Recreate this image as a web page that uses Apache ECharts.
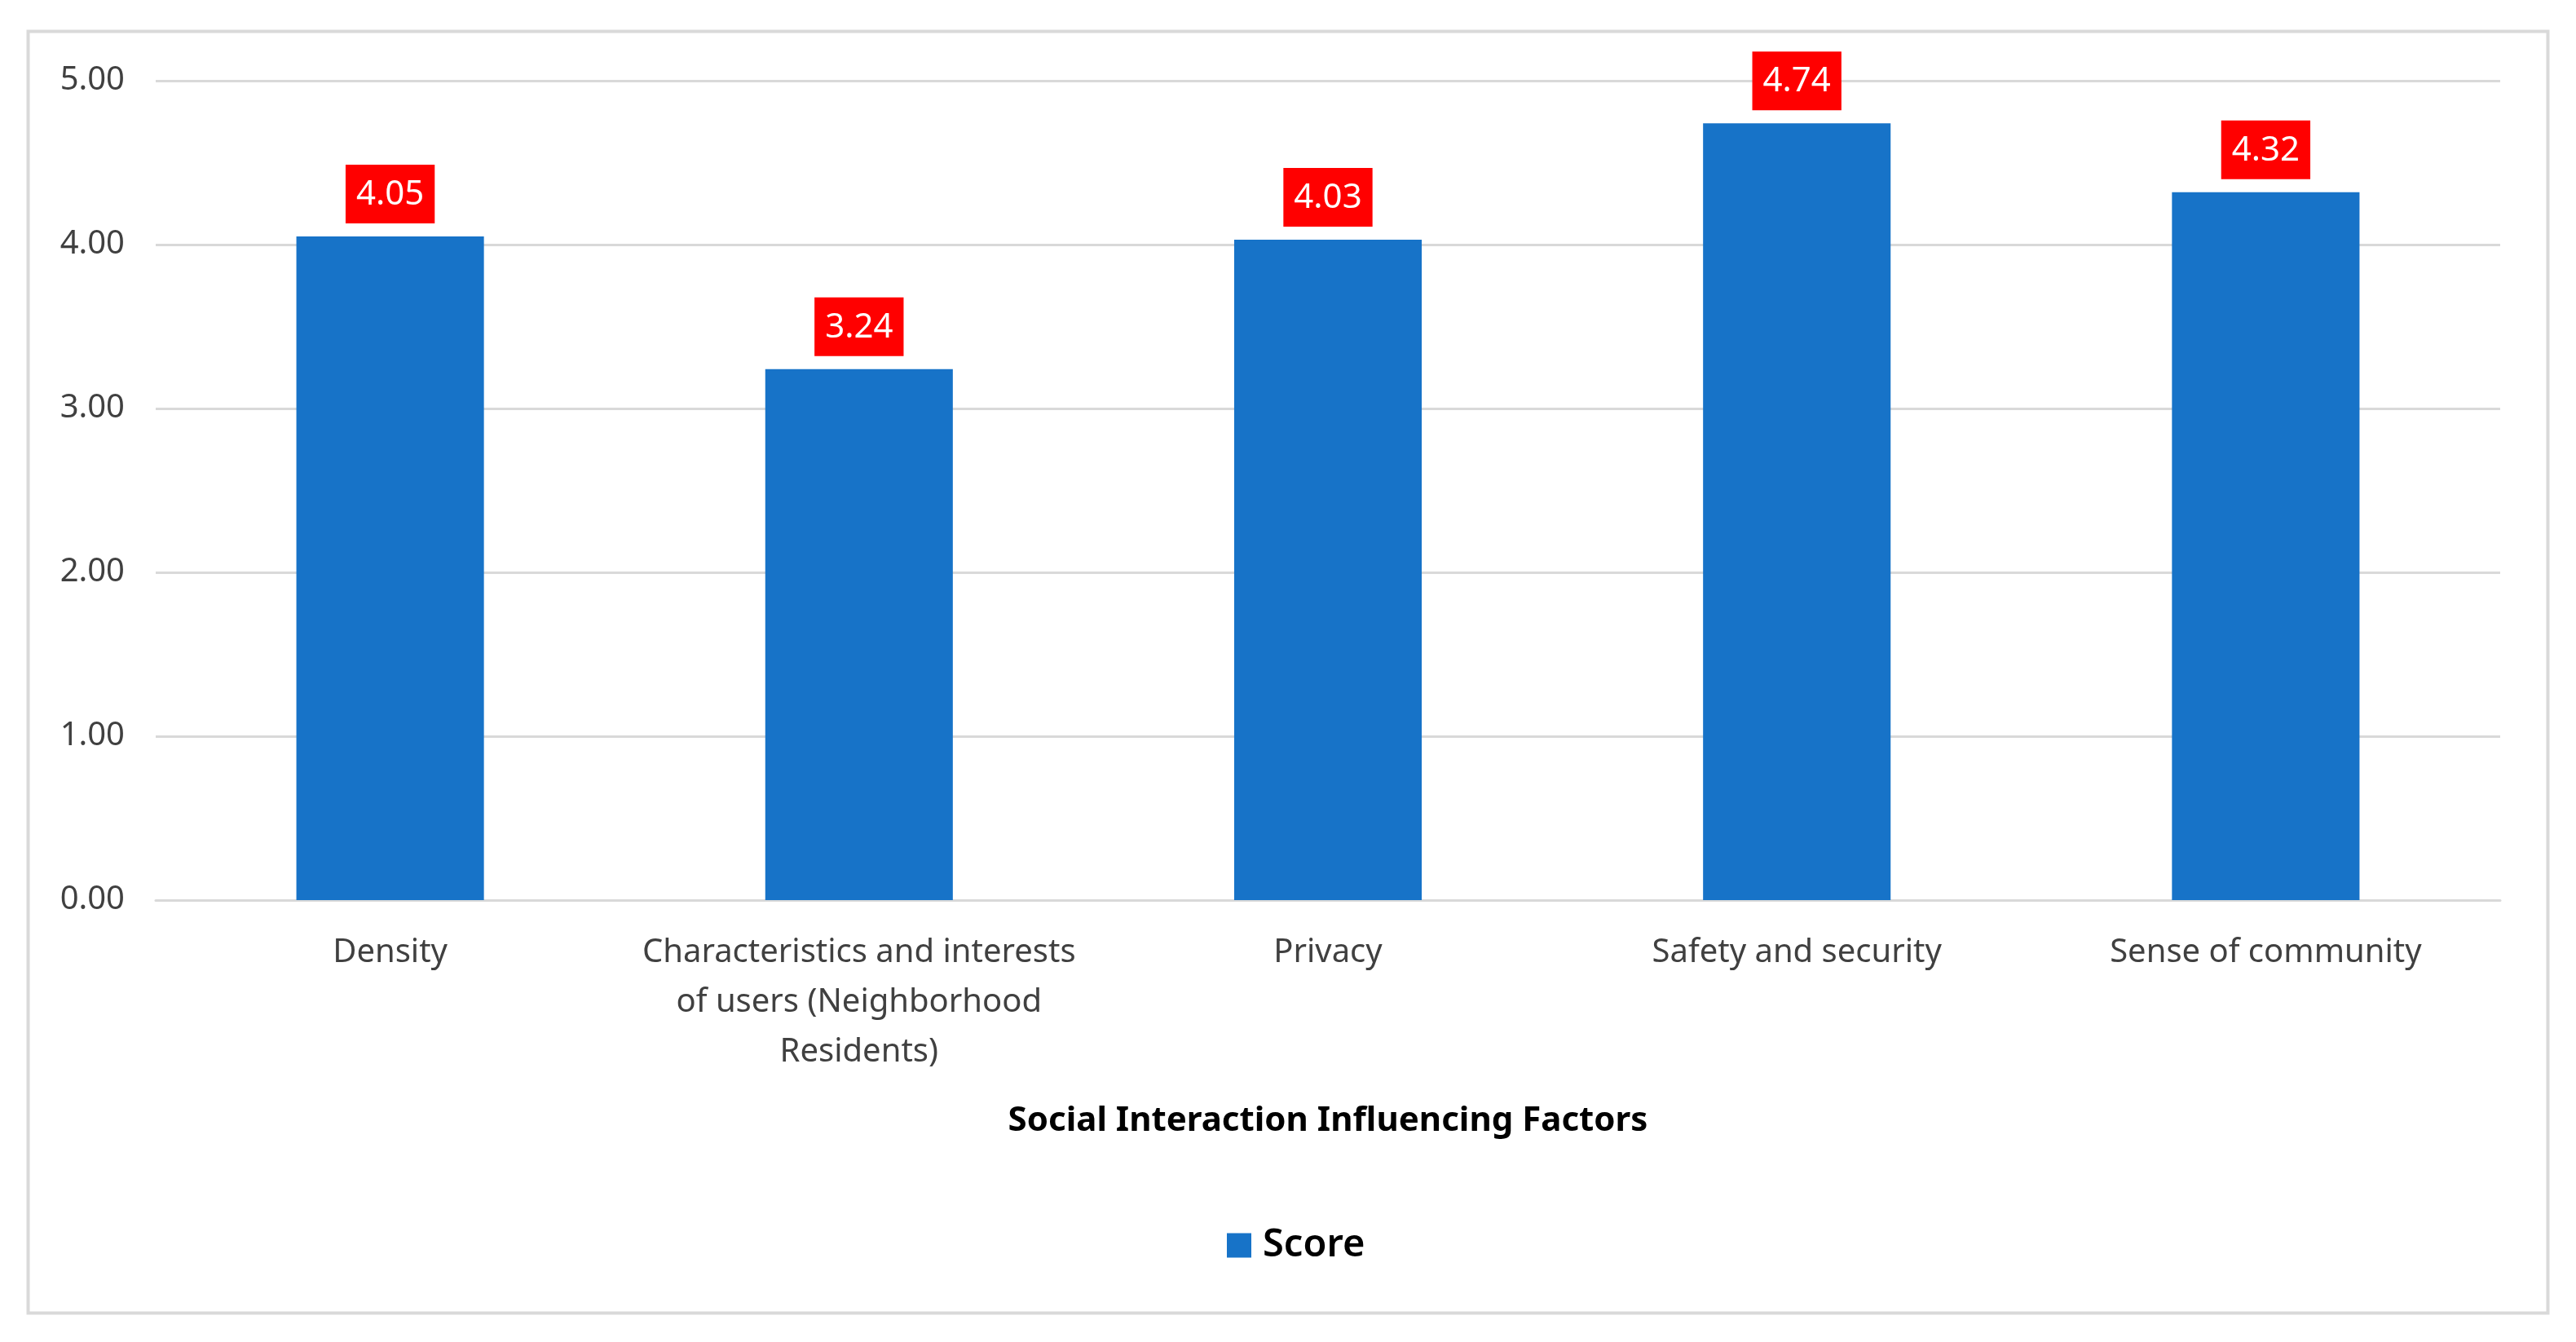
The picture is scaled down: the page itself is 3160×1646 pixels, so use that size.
<!DOCTYPE html>
<html>
<head>
<meta charset="utf-8">
<script src="https://cdn.jsdelivr.net/npm/echarts@6/dist/echarts.min.js"></script>
<style>
html,body{margin:0;padding:0;background:#fff;}
#chart{width:3160px;height:1646px;}
</style>
</head>
<body>
<div id="chart"></div>
<script>
const categories = [
  "Density",
  "Characteristics and interests\nof users (Neighborhood\nResidents)",
  "Privacy",
  "Safety and security",
  "Sense of community"
];
const scores = [4.05, 3.24, 4.03, 4.74, 4.32];
const seriesName = "Score";
const xAxisTitle = "Social Interaction Influencing Factors";

const chart = echarts.init(document.getElementById('chart'));
chart.setOption({
  backgroundColor: '#ffffff',
  animation: false,
  textStyle: { fontFamily: 'Noto Sans' },
  graphic: [{
    type: 'rect',
    left: 32, top: 36,
    shape: { width: 3091, height: 1572 },
    style: { fill: 'none', stroke: '#d9d9d9', lineWidth: 4 },
    silent: true
  }],
  grid: { left: 191, right: 93, top: 99, bottom: 542, containLabel: false },
  legend: {
    data: [seriesName],
    left: 1500,
    top: 1499,
    itemWidth: 30,
    itemHeight: 30,
    icon: 'rect',
    textStyle: { fontSize: 47, fontWeight: 600, color: '#000', fontFamily: 'Noto Sans', padding: [0, 0, 0, 9] }
  },
  xAxis: {
    type: 'category',
    data: categories,
    axisLine: { show: true, lineStyle: { color: '#d9d9d9', width: 3 } },
    axisTick: { show: false },
    axisLabel: { fontSize: 40, color: '#404040', lineHeight: 61, margin: 34, interval: 0 },
    name: xAxisTitle,
    nameLocation: 'middle',
    nameGap: 250,
    nameTextStyle: { fontSize: 42, fontWeight: 'bold', color: '#000' }
  },
  yAxis: {
    type: 'value',
    min: 0, max: 5, interval: 1,
    axisLine: { show: false },
    axisTick: { show: false },
    axisLabel: { fontSize: 40, color: '#404040', margin: 38, formatter: v => v.toFixed(2) },
    splitLine: { show: true, lineStyle: { color: '#d9d9d9', width: 3 } }
  },
  series: [{
    name: seriesName,
    type: 'bar',
    data: scores,
    barWidth: '40%',
    itemStyle: { color: '#1773c8' },
    label: {
      show: true,
      position: 'top',
      distance: 16,
      formatter: p => p.value.toFixed(2),
      color: '#fff',
      fontSize: 42,
      backgroundColor: '#ff0000',
      padding: [16, 13, 14, 13]
    }
  }]
});
</script>
</body>
</html>
